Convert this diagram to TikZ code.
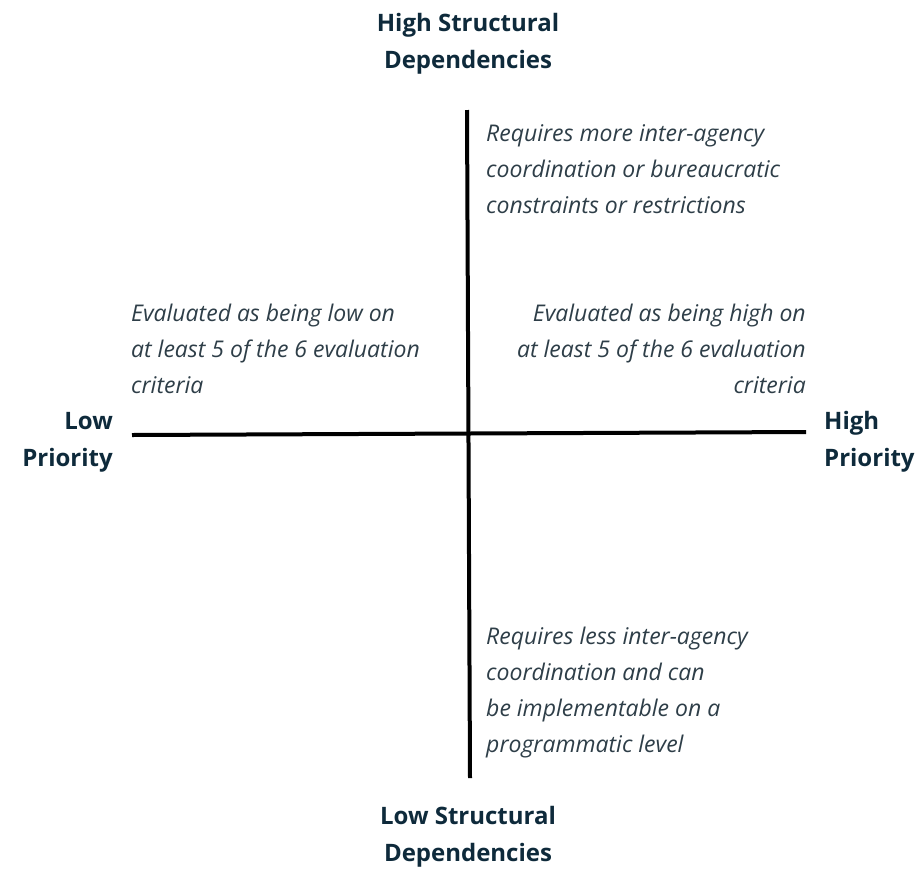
\documentclass[tikz,border=0pt]{standalone}
\usepackage{fontspec}
\setmainfont{Open Sans}
\begin{document}
\begin{tikzpicture}[x=1pt,y=-1pt,
  axis/.style={line width=4pt,black},
  label/.style={font=\fontsize{24}{37}\selectfont\bfseries,text=labc,inner sep=0pt},
  desc/.style={font=\fontsize{23}{36}\selectfont\itshape,text=descc,inner sep=0pt}]
\definecolor{labc}{HTML}{0E2A3B}
\definecolor{descc}{HTML}{2E3E48}
\useasboundingbox (0,0) rectangle (918,868);
\coordinate (vt) at (467,110);
\coordinate (vb) at (470,778);
\coordinate (hl) at (132,435);
\coordinate (hr) at (806,432);
\draw[axis] (vt) -- (vb);
\draw[axis] (hl) -- (hr);
\node[label,align=center,anchor=base] (top) at (468,68) {High Structural\\Dependencies};
\node[label,align=center,anchor=base] (bot) at (468,861) {Low Structural\\Dependencies};
\node[label,align=right,anchor=base east] (lp) at (113,466) {Low\\Priority};
\node[label,align=left,anchor=base west] (hp) at (824,466) {High\\Priority};
\node[desc,align=left,anchor=base west] (tr) at (486,213) {Requires more inter-agency\\coordination or bureaucratic\\constraints or restrictions};
\node[desc,align=left,anchor=base west] (l) at (131,393) {Evaluated as being low on\\at least 5 of the 6 evaluation\\criteria};
\node[desc,align=right,anchor=base east] (r) at (806,393) {Evaluated as being high on\\at least 5 of the 6 evaluation\\criteria};
\node[desc,align=left,anchor=base west] (br) at (486,752) {Requires less inter-agency\\coordination and can\\be implementable on a\\programmatic level};
\end{tikzpicture}
\end{document}
